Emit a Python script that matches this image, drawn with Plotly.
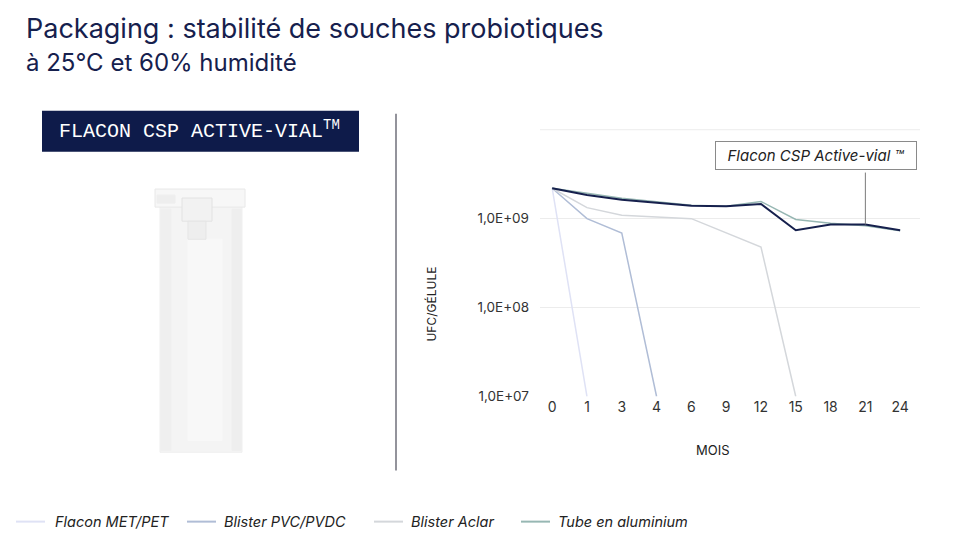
import plotly.graph_objects as go

# Data
mois = ['0', '1', '3', '4', '6', '9', '12', '15', '18', '21', '24']

flacon_met_pet = [2.2e9, 1e7]
blister_pvc_pvdc = [2.2e9, 1.0e9, 6.9e8, 1e7]
blister_aclar = [2.2e9, 1.33e9, 1.09e9, 1.05e9, 1.0e9, None, 4.8e8, 1e7]
tube_aluminium = [2.2e9, 1.92e9, 1.7e9, 1.55e9, 1.42e9, 1.38e9, 1.56e9, 9.8e8, 8.9e8, 8.3e8, 7.3e8]
active_vial = [2.2e9, 1.85e9, 1.63e9, 1.5e9, 1.4e9, 1.38e9, 1.46e9, 7.4e8, 8.6e8, 8.6e8, 7.4e8]

y_ticks = [1e7, 1e8, 1e9]
y_ticktext = ['1,0E+07', '1,0E+08', '1,0E+09']

callout_month = '21'
callout_top = 3.3e9  # where the leader line meets the label box

NAVY = '#16204d'
# the page keeps its 8px body margin, so size the figure to fit inside it
OFF = 8
W, H = 960 - 2 * OFF, 540 - 2 * OFF


def px(x, y):
    # screen pixel position -> paper coordinates
    # (the photo comes out slightly squeezed vertically, so undo that)
    fy = (y - 2) / 0.98 - OFF
    return (x - OFF) / W, 1 - fy / H


fig = go.Figure()

series = [
    ('Flacon MET/PET', flacon_met_pet, '#dfe2f5'),
    ('Blister PVC/PVDC', blister_pvc_pvdc, '#b0bdd6'),
    ('Blister Aclar', blister_aclar, '#d4d7db'),
    ('Tube en aluminium', tube_aluminium, '#97b7b3'),
    ('Flacon CSP Active-vial ™', active_vial, NAVY),
]
for name, vals, color in series:
    xs = [m for m, v in zip(mois, vals) if v is not None]
    ys = [v for v in vals if v is not None]
    fig.add_trace(go.Scatter(
        x=xs, y=ys, mode='lines', name=name,
        line=dict(color=color, width=2 if color == NAVY else 1.5),
        showlegend=False,
    ))

# leader line of the callout
fig.add_trace(go.Scatter(
    x=[callout_month, callout_month],
    y=[active_vial[mois.index(callout_month)], callout_top],
    mode='lines', line=dict(color='#7a7a7a', width=1),
    showlegend=False, hoverinfo='skip', cliponaxis=False,
))

x0, y1 = px(540, 131)
x1, y0 = px(920, 396.5)

fig.update_layout(
    width=W, height=H,
    margin=dict(l=0, r=0, t=0, b=0),
    paper_bgcolor='white', plot_bgcolor='white',
    font=dict(family='Inter', color='#333333'),
    showlegend=False,
    xaxis=dict(
        type='category', categoryorder='array', categoryarray=mois,
        domain=[x0, x1], range=[-0.35, 10.57],
        showgrid=False, zeroline=False, showline=False,
        tickfont=dict(size=14, color='#333333'),
    ),
    yaxis=dict(
        type='log', domain=[y0, y1], range=[7, 10],
        tickvals=y_ticks, ticktext=y_ticktext,
        showgrid=True, gridcolor='#ececec', gridwidth=1,
        zeroline=False, showline=False,
        tickfont=dict(size=13.5, color='#333333'),
        ticklabelstandoff=10,
    ),
)

# top gridline (1E+10, unlabeled)
fig.add_shape(type='line', xref='x domain', yref='y domain',
              x0=0, x1=1, y0=1, y1=1, line=dict(color='#ececec', width=1),
              layer='below')


def label(text, x, y, size, color='#222222', **kw):
    a, b = px(x, y)
    fig.add_annotation(text=text, xref='paper', yref='paper', x=a, y=b,
                       xanchor=kw.pop('xanchor', 'center'), yanchor='middle',
                       showarrow=False, font=dict(size=size, color=color,
                                                  family=kw.pop('family', 'Inter'),
                                                  style=kw.pop('style', 'normal')),
                       **kw)


# Axis titles
label('MOIS', 713, 450, 13)
label('UFC/GÉLULE', 432, 305, 12, textangle=-90)

# Callout box
label('Flacon CSP Active-vial ™', 816, 156.5, 15, style='italic',
      bgcolor='white', bordercolor='#8a8a8a', borderwidth=1, width=198, height=25)

# Titles
label('Packaging : stabilité de souches probiotiques', 24, 30.5, 27, NAVY, xanchor='left')
label('à 25°C et 60% humidité', 24, 64.5, 24, NAVY, xanchor='left')

# Legend drawn by hand so its spacing follows the reference
legend_items = [
    ('Flacon MET/PET', '#dfe2f5', 16, 53),
    ('Blister PVC/PVDC', '#b0bdd6', 187, 222),
    ('Blister Aclar', '#d4d7db', 374, 409),
    ('Tube en aluminium', '#97b7b3', 521, 556),
]
for text, color, sx, tx in legend_items:
    a, b = px(sx, 521)
    c, _ = px(sx + 29, 521)
    fig.add_shape(type='line', xref='paper', yref='paper', x0=a, x1=c, y0=b, y1=b,
                  line=dict(color=color, width=2))
    label(text, tx, 521, 14.5, '#222222', xanchor='left', style='italic')

# Left panel: label box
bx0, by0 = px(42, 112)
bx1, by1 = px(359, 153)
fig.add_shape(type='rect', xref='paper', yref='paper',
              x0=bx0, x1=bx1, y0=by1, y1=by0,
              fillcolor='#0e1b4a', line=dict(width=0), layer='below')
label('FLACON CSP ACTIVE-VIAL<sup>TM</sup>', 199, 131, 20, 'white', family='Liberation Mono')

# Divider
dx, dy0 = px(396, 115)
_, dy1 = px(396, 470)
fig.add_shape(type='line', xref='paper', yref='paper',
              x0=dx, x1=dx, y0=dy1, y1=dy0,
              line=dict(color='#6f6f7a', width=1.5))


# Vial drawing (decorative)
def rect(xa, ya, xb, yb, fill, line=None):
    a, b = px(xa, ya)
    c, d = px(xb, yb)
    fig.add_shape(type='rect', xref='paper', yref='paper',
                  x0=a, x1=c, y0=d, y1=b, fillcolor=fill,
                  line=dict(color=line or fill, width=1))


rect(160, 205, 242, 452, '#f4f4f4', '#efefef')
rect(161, 210, 171, 450, '#efefef')
rect(232, 210, 241, 450, '#eeeeee')
rect(188, 240, 222, 440, '#f8f8f8')
rect(155, 190, 245, 208, '#f7f7f7', '#e8e8e8')
rect(157, 196, 175, 204, '#eeeeee')
rect(182, 199, 212, 222, '#f2f2f2', '#e2e2e2')
rect(188, 222, 206, 240, '#eeeeee', '#e5e5e5')

fig.write_html('out.html')
